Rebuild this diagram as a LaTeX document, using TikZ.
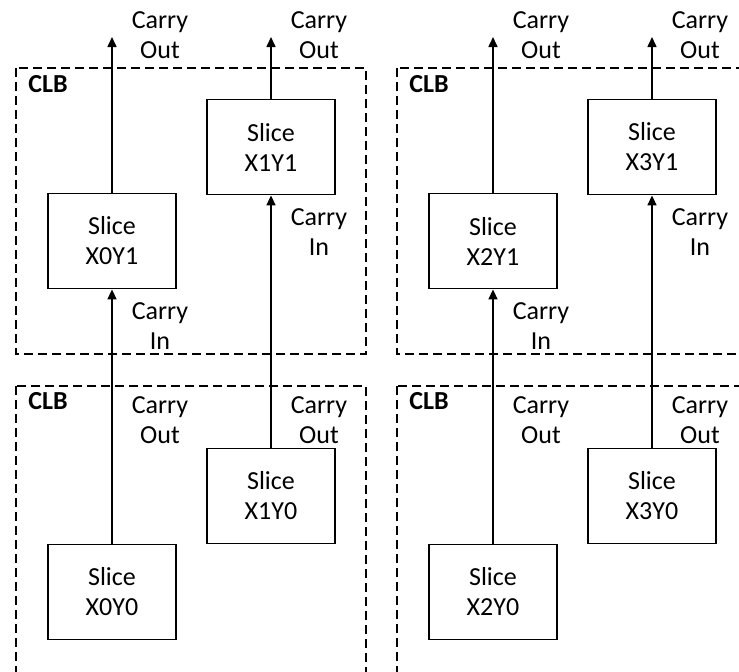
\documentclass[tikz,border=0pt]{standalone}
\usepackage{fontspec}
\setmainfont{Carlito}
\usetikzlibrary{arrows.meta}

\begin{document}
\begin{tikzpicture}[x=0.5pt, y=-0.5pt, font=\fontsize{13}{15}\selectfont,
  slice/.style={draw, line width=0.9pt, minimum width=64pt, minimum height=47.5pt, align=center, inner sep=0pt},
  clb/.style={draw, line width=0.8pt, dash pattern=on 4.5pt off 2.5pt},
  clbname/.style={font=\fontsize{13}{15}\selectfont\bfseries, anchor=west, inner sep=0pt},
  lbl/.style={align=center, inner sep=0pt},
  carry/.style={line width=0.8pt, -{Triangle[length=5pt, width=4.5pt]}}]
\useasboundingbox (0,0) rectangle (739,671);
\clip (0,0) rectangle (739,671);

% two CLBs per column pair, the lower ones run off the page
\foreach \dx/\n in {0/a, 381/b} {
  \draw[clb] (16+\dx,68) rectangle (366+\dx,354);
  \draw[clb] (16+\dx,386) rectangle (366+\dx,720);
  \node[clbname] (clb\n1) at (28+\dx,84) {CLB};
  \node[clbname] (clb\n0) at (28+\dx,401) {CLB};
}

% slices and the carry chain through them
\foreach \c/\x/\ya/\yb in {0/112/592/241, 1/271/496/147, 2/493/592/241, 3/652/496/147} {
  \node[slice] (s\c0) at (\x,\ya) {Slice\\X\c Y0};
  \node[slice] (s\c1) at (\x,\yb) {Slice\\X\c Y1};
  \coordinate (top\c) at (\x,37);
  \draw[carry] (s\c0) -- (s\c1);
  \draw[carry] (s\c1) -- (top\c);
  \node[lbl] (cout\c1) at (\x+48,35) {Carry\\Out};
  \node[lbl] (cin\c1) at ([shift={(48,37)}]s\c1.south) {Carry\\In};
  \node[lbl] (cout\c0) at (\x+48,420) {Carry\\Out};
}
\end{tikzpicture}
\end{document}
